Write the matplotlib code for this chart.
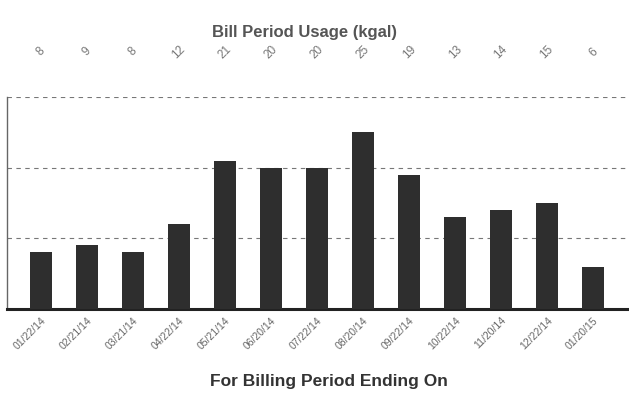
import numpy as np
import matplotlib.pyplot as plt

plt.rcParams['font.family'] = ['Liberation Sans', 'DejaVu Sans']

periods = ["01/22/14", "02/21/14", "03/21/14", "04/22/14", "05/21/14", "06/20/14",
           "07/22/14", "08/20/14", "09/22/14", "10/22/14", "11/20/14", "12/22/14",
           "01/20/15"]
usage = [8, 9, 8, 12, 21, 20, 20, 25, 19, 13, 14, 15, 6]
grid_levels = [10, 20, 30]

fig = plt.figure(figsize=(6.29, 4.02), dpi=100)
ax = fig.add_axes([7 / 629, 1 - 310 / 402, 622 / 629, 212 / 402])

x = np.arange(len(usage))
ax.bar(x, usage, width=0.48, color="#2e2e2e", zorder=3)

ax.set_xlim(-0.74, len(usage) - 1 + 0.78)
ax.set_ylim(0, 30)
ax.set_yticks(grid_levels)
ax.yaxis.grid(True, linestyle=(0, (4, 4)), color="#777777", linewidth=0.8, zorder=0)
ax.tick_params(axis="y", length=0, labelleft=False)

ax.spines["top"].set_visible(False)
ax.spines["right"].set_visible(False)
ax.spines["left"].set_color("#666666")
ax.spines["left"].set_linewidth(1.0)
ax.spines["bottom"].set_color("#222222")
ax.spines["bottom"].set_linewidth(2.2)

ax.set_xticks(x)
ax.set_xticklabels(periods, rotation=45, ha="right", rotation_mode="anchor",
                   fontsize=7.5, color="#666666")
ax.tick_params(axis="x", length=0, pad=4)

# usage values listed above each bar
for xi, v in zip(x, usage):
    ax.text(xi, 36.5, str(v), rotation=45, ha="center", va="center",
            fontsize=8.5, color="#777777", clip_on=False)

fig.text(305 / 629, 1 - 32 / 402, "Bill Period Usage (kgal)", ha="center", va="center",
         fontsize=12, fontweight="bold", color="#555555")
fig.text(329 / 629, 1 - 382 / 402, "For Billing Period Ending On", ha="center", va="center",
         fontsize=12.5, fontweight="bold", color="#333333")

fig.savefig("out.png", dpi=100)
